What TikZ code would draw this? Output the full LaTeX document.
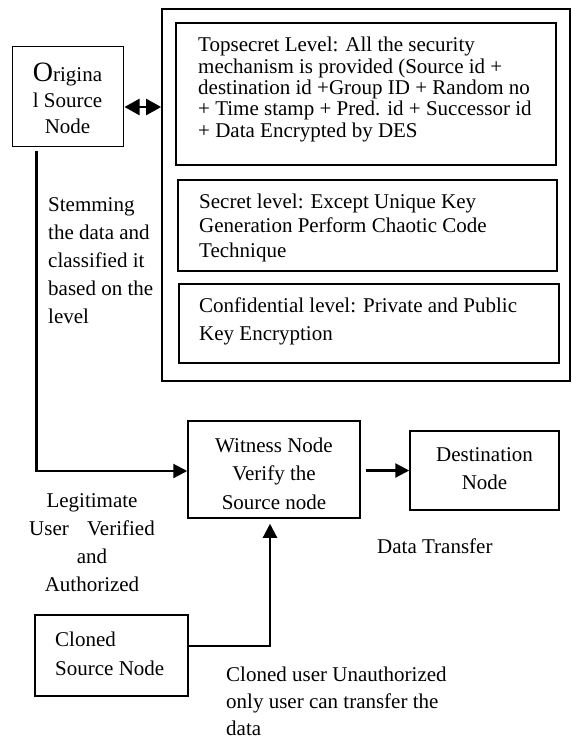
\documentclass[tikz,border=0pt]{standalone}
\usepackage{fontspec}
\setmainfont{Liberation Serif}
\usetikzlibrary{arrows.meta,calc}
\begin{document}
\begin{tikzpicture}[x=1pt,y=-1pt,
  box/.style={draw, line width=1.2pt, inner sep=0pt},
  outerbox/.style={draw, line width=1.7pt, inner sep=0pt},
  txt/.style={inner sep=0pt, align=left, font=\fontsize{21}{#1}\selectfont},
  ctxt/.style={inner sep=0pt, align=center, font=\fontsize{21}{#1}\selectfont},
  conn/.style={line width=2.2pt, -{Triangle[length=14pt,width=14pt]}},
  dbl/.style={line width=2.4pt, {Triangle[length=15pt,width=16pt]}-{Triangle[length=15pt,width=16pt]}}]
\useasboundingbox (0,0) rectangle (572,742);
\fill[white] (0,0) rectangle (572,742);

% boxes
\node[box, line width=1pt, minimum width=111pt, minimum height=100pt] (orig) at (67.5,96) {};
\node[outerbox, minimum width=408pt, minimum height=372pt] (outer) at (366,195) {};
\node[box, minimum width=380pt, minimum height=142pt] (ts) at (366,94) {};
\node[box, minimum width=379pt, minimum height=91pt] (sec) at (367.5,225.5) {};
\node[box, minimum width=380pt, minimum height=79pt] (conf) at (369,323.5) {};
\node[box, line width=1.5pt, minimum width=172pt, minimum height=97pt] (wit) at (274,469.5) {};
\node[box, line width=1.5pt, minimum width=149pt, minimum height=79pt] (dest) at (484.5,470.5) {};
\node[box, minimum width=153pt, minimum height=81pt] (clon) at (111.5,655.5) {};

% texts in boxes
\node[ctxt=26] (origt) at (67.5,98) {{\fontsize{28}{28}\selectfont O}rigina\\l Source\\Node};
\node[txt=21.4, anchor=west] (tst) at (198,89.5) {Topsecret Level: All the security\\mechanism is provided (Source id +\\destination id +Group ID + Random no\\+ Time stamp + Pred. id + Successor id\\+ Data Encrypted by DES};
\node[txt=24.5, anchor=west] (sect) at (199,227.5) {Secret level: Except Unique Key\\Generation Perform Chaotic Code\\Technique};
\node[txt=28, anchor=west] (conft) at (199,321) {Confidential level: Private and Public\\Key Encryption};
\node[ctxt=28.5] (witt) at (274,473.5) {Witness Node\\Verify the\\Source node};
\node[ctxt=28] (destt) at (484.5,469) {Destination\\Node};
\node[txt=29, anchor=west] (clont) at (55,653.5) {Cloned\\Source Node};

% free labels
\node[txt=28, anchor=west] (stem) at (48,261) {Stemming\\the data and\\classified it\\based on the\\level};
\node[ctxt=28] (legit) at (92,543) {Legitimate\\User\hspace*{13pt} Verified\\and\\Authorized};
\node[txt=21, anchor=west] (dt) at (377,546) {Data Transfer};
\node[txt=27, anchor=west] (cu) at (226,701) {Cloned user Unauthorized\\only user can transfer the\\data};

% connectors
\draw[dbl] ($(orig.east)+(1,11)$) -- ($(outer.west |- orig.east)+(0,11)$);
\draw[conn] ($(orig.south west)+(25,4)$) |- ($(wit.west)+(0,1.5)$);
\draw[conn] ($(wit.east |- dest.west)+(5,0)$) -- (dest.west);
\draw[conn] ($(clon.east)+(0,-9.5)$) -| ($(wit.south)+(-4,5)$);
\end{tikzpicture}
\end{document}
